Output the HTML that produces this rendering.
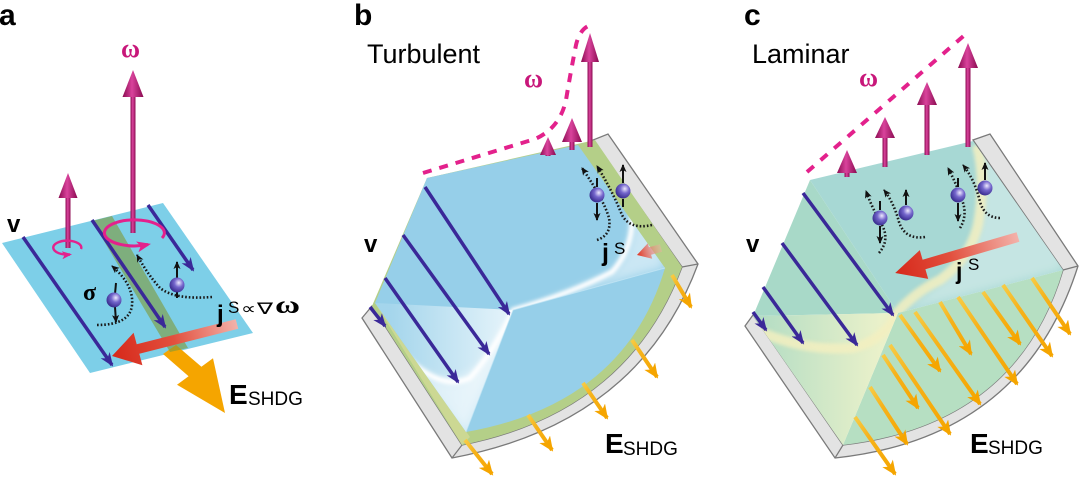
<!DOCTYPE html>
<html><head><meta charset="utf-8"><style>
html,body{margin:0;padding:0;background:#fff;width:1080px;height:477px;overflow:hidden;}
svg{display:block;}
</style></head><body>
<svg width="1080" height="477" viewBox="0 0 1080 477" xmlns="http://www.w3.org/2000/svg" font-family="'Liberation Sans', sans-serif">
<defs>
  <marker id="mb" viewBox="0 0 14 11" refX="12" refY="5.5" markerWidth="14" markerHeight="11" markerUnits="userSpaceOnUse" orient="auto"><path d="M0,0 L14,5.5 L0,11 L4,5.5 Z" fill="#3a2898"/></marker>
  <marker id="mo" viewBox="0 0 15 13" refX="13" refY="6.5" markerWidth="15" markerHeight="13" markerUnits="userSpaceOnUse" orient="auto"><path d="M0,0 L15,6.5 L0,13 L4,6.5 Z" fill="#f5a500"/></marker>
  <marker id="mk" viewBox="0 0 8 7" refX="7" refY="3.5" markerWidth="8" markerHeight="7" markerUnits="userSpaceOnUse" orient="auto"><path d="M0,0 L8,3.5 L0,7 L2,3.5 Z" fill="#111"/></marker>
  <marker id="mp" viewBox="0 0 10 8" refX="8" refY="4" markerWidth="10" markerHeight="8" markerUnits="userSpaceOnUse" orient="auto"><path d="M0,0 L10,4 L0,8 L2.5,4 Z" fill="#e3218c"/></marker>
  <marker id="mp2" viewBox="0 0 14 11" refX="11" refY="5.5" markerWidth="14" markerHeight="11" markerUnits="userSpaceOnUse" orient="auto"><path d="M0,0 L14,5.5 L0,11 L3.5,5.5 Z" fill="#e3218c"/></marker>
  <linearGradient id="mag" x1="0" y1="0" x2="1" y2="0">
    <stop offset="0" stop-color="#8a0b50"/><stop offset="0.45" stop-color="#d9439c"/><stop offset="1" stop-color="#8a0b50"/>
  </linearGradient>
  <linearGradient id="org" x1="0" y1="0" x2="1" y2="1">
    <stop offset="0" stop-color="#f7cb45"/><stop offset="0.35" stop-color="#f6b21a"/><stop offset="1" stop-color="#f5a500"/>
  </linearGradient>
  <radialGradient id="ball" cx="0.62" cy="0.35" r="0.75">
    <stop offset="0" stop-color="#eeeaff"/><stop offset="0.4" stop-color="#7466cc"/><stop offset="1" stop-color="#2a1f80"/>
  </radialGradient>
  <linearGradient id="redA" gradientUnits="userSpaceOnUse" x1="237" y1="324" x2="112" y2="358">
    <stop offset="0" stop-color="#f3b2aa"/><stop offset="0.5" stop-color="#e2503e"/><stop offset="1" stop-color="#d6281a"/>
  </linearGradient>
  <linearGradient id="redB" gradientUnits="userSpaceOnUse" x1="662" y1="248" x2="637" y2="255">
    <stop offset="0" stop-color="#f3b2aa" stop-opacity="0.4"/><stop offset="1" stop-color="#e0301e"/>
  </linearGradient>
  <linearGradient id="redC" gradientUnits="userSpaceOnUse" x1="1018" y1="237" x2="895" y2="273">
    <stop offset="0" stop-color="#f3b2aa"/><stop offset="0.55" stop-color="#e2503e"/><stop offset="1" stop-color="#d6281a"/>
  </linearGradient>
  <linearGradient id="llc" gradientUnits="userSpaceOnUse" x1="760" y1="360" x2="880" y2="360">
    <stop offset="0" stop-color="#b4ddc4"/><stop offset="1" stop-color="#eaf1ca"/>
  </linearGradient>
  <linearGradient id="llb" gradientUnits="userSpaceOnUse" x1="390" y1="360" x2="500" y2="360">
    <stop offset="0" stop-color="#a6d6ec"/><stop offset="1" stop-color="#e8f5fb"/>
  </linearGradient>
  <filter id="bl2" x="-30%" y="-30%" width="160%" height="160%"><feGaussianBlur stdDeviation="1.8"/></filter>
  <filter id="bl5" x="-30%" y="-30%" width="160%" height="160%"><feGaussianBlur stdDeviation="5"/></filter>
  <clipPath id="cpb"><polygon points="375,303 427,178 578,145 665,268 513,310 466,432"/></clipPath>
  <clipPath id="cpc"><polygon points="753,316 810,180 973,141 1063,270 898,313 843,445"/></clipPath>
</defs>

<!-- ================= PANEL A ================= -->
<text x="-1" y="25" font-size="30" font-weight="bold" fill="#000">a</text>
<text x="121" y="57" font-family="'Liberation Serif', serif" font-size="26" font-weight="bold" fill="#c8177a">ω</text>

<polygon points="2,243 163,203 253,333 90,373" fill="#7dcfe8"/>
<polygon points="176,345 201.4,366.8 213,358.2 225,413 177,384.8 188.6,376.2 163,354" fill="#f5a500"/>
<polygon points="92,221 112,216 188,348 170,352" fill="#7f9a3c" fill-opacity="0.62"/>

<g stroke="#3a2898" stroke-width="3.5" marker-end="url(#mb)" fill="none">
  <line x1="23" y1="237" x2="112" y2="365"/>
  <line x1="92" y1="220" x2="165" y2="327"/>
  <line x1="148" y1="205" x2="193" y2="270"/>
</g>

<g stroke="#1a1a1a" stroke-width="2.6" stroke-dasharray="1.6 2" fill="none" marker-end="url(#mk)">
  <path d="M 97,325 Q 130,325 132,305 Q 134,285 112,266"/>
  <path d="M 212,297 Q 175,300 160,288 Q 148,275 137,255"/>
</g>
<g stroke="#111" stroke-width="2" fill="none">
  <line x1="115" y1="294" x2="116" y2="283"/>
  <line x1="115" y1="307" x2="116" y2="322" marker-end="url(#mk)"/>
  <line x1="177" y1="278" x2="177" y2="262" marker-end="url(#mk)"/>
  <line x1="177" y1="292" x2="177" y2="298"/>
</g>
<circle cx="114" cy="300" r="7.5" fill="url(#ball)"/>
<circle cx="177" cy="285" r="7.5" fill="url(#ball)"/>

<polygon points="235.7,319.2 136.7,344.2 133.6,332.8 112,356 142.4,365.2 139.3,353.8 238.3,328.8" fill="url(#redA)"/>

<rect x="130.5" y="95" width="5" height="138" fill="url(#mag)"/>
<polygon points="133,70 143.5,97 122.5,97" fill="url(#mag)"/>
<rect x="65.5" y="196" width="5" height="52" fill="url(#mag)"/>
<polygon points="68,173 77.5,198 58.5,198" fill="url(#mag)"/>
<path d="M 81,249 A 14,7 0 1 0 70,254.5" stroke="#e3218c" stroke-width="2.4" fill="none" marker-end="url(#mp)"/>
<path d="M 162,238 A 30,13 0 1 0 148,244.5" stroke="#e3218c" stroke-width="3" fill="none" marker-end="url(#mp2)"/>

<text x="7" y="232" font-size="24" font-weight="bold" fill="#000">v</text>
<text x="83" y="300" font-family="'Liberation Serif', serif" font-size="24" font-weight="bold" fill="#000">σ</text>
<text x="217" y="322" font-size="24" font-weight="bold" fill="#000">j</text>
<text x="228" y="313" font-size="17" fill="#000">S</text>
<text x="241" y="314" font-family="'DejaVu Sans', sans-serif" font-size="16" fill="#000" textLength="15" lengthAdjust="spacingAndGlyphs">∝</text>
<text x="257" y="314" font-family="'DejaVu Sans', sans-serif" font-size="16" fill="#000" textLength="16" lengthAdjust="spacingAndGlyphs">∇</text>
<text x="275" y="313" font-family="'Liberation Serif', serif" font-size="24" font-weight="bold" fill="#000" textLength="25" lengthAdjust="spacingAndGlyphs">ω</text>
<text x="229" y="404" font-size="28" font-weight="bold" fill="#000">E</text>
<text x="248" y="405" font-size="19" fill="#000">SHDG</text>

<!-- ================= PANEL B ================= -->
<text x="354" y="25" font-size="30" font-weight="bold" fill="#000">b</text>
<text x="367" y="63" font-size="27" fill="#000">Turbulent</text>
<text x="524" y="87" font-family="'Liberation Serif', serif" font-size="26" font-weight="bold" fill="#c8177a">ω</text>

<path d="M 372,306 L 362,318 L 452,458 Q 639,423 698,264 L 608,134 L 593,140 L 682,267 Q 628,412 462,445 Z" fill="#e3e3e3" stroke="#7a7a7a" stroke-width="1.3"/>
<line x1="682" y1="267" x2="698" y2="264" stroke="#7a7a7a" stroke-width="1.2"/>
<line x1="462" y1="445" x2="452" y2="458" stroke="#7a7a7a" stroke-width="1.2"/>
<path d="M 427,178 L 595,140 L 682,267 Q 628,412 462,445 L 372,306 Z" fill="#b4cf88"/>
<path d="M 375,303 L 462,445 L 470,437 Z" fill="#d5dc98" opacity="0.7"/>
<path d="M 427,178 L 578,145 L 665,268 Q 624.5,404 466,432 L 375,303 Z" fill="#96cfe9"/>
<g clip-path="url(#cpb)">
  <polygon points="375,303 466,432 513,310" fill="url(#llb)" opacity="0.9"/>
  <path d="M 418,366 Q 450,395 482,362 Q 500,332 513,310 Q 570,294 612,272 Q 634,248 632,212 L 660,230 L 665,268 L 513,310 L 466,432 L 430,395 Z" fill="#ffffff" opacity="0.5" filter="url(#bl5)"/>
  <path d="M 405,355 Q 440,392 470,378 Q 495,350 513,310 Q 570,294 612,272 Q 634,248 632,212" stroke="#ffffff" stroke-width="5" fill="none" filter="url(#bl2)"/>
</g>
<line x1="513" y1="310" x2="665" y2="268" stroke="#c8e8f6" stroke-width="1" opacity="0.7"/>
<line x1="513" y1="310" x2="466" y2="432" stroke="#c8e8f6" stroke-width="1" opacity="0.7"/>

<g stroke="#3a2898" stroke-width="3.5" marker-end="url(#mb)" fill="none">
  <line x1="425" y1="187" x2="509" y2="314"/>
  <line x1="403" y1="235" x2="489" y2="354"/>
  <line x1="385" y1="278" x2="458" y2="382"/>
  <line x1="370" y1="307" x2="385" y2="326"/>
</g>

<g stroke="url(#org)" stroke-width="4" marker-end="url(#mo)" fill="none">
  <line x1="672" y1="275" x2="691" y2="307"/>
  <line x1="632" y1="340" x2="657" y2="377"/>
  <line x1="583" y1="383" x2="607" y2="418"/>
  <line x1="528" y1="415" x2="552" y2="450"/>
  <line x1="465" y1="440" x2="492" y2="474"/>
</g>

<g stroke="#1a1a1a" stroke-width="2.6" stroke-dasharray="1.6 2" fill="none" marker-end="url(#mk)">
  <path d="M 597,240 Q 612,235 609,218 Q 604,200 582,168"/>
  <path d="M 652,225 Q 630,230 622,215 Q 612,190 597,166"/>
</g>
<g stroke="#111" stroke-width="2" fill="none">
  <line x1="597" y1="187" x2="597" y2="178"/>
  <line x1="597" y1="203" x2="597" y2="220" marker-end="url(#mk)"/>
  <line x1="623" y1="183" x2="623" y2="165" marker-end="url(#mk)"/>
  <line x1="623" y1="199" x2="623" y2="207"/>
</g>
<circle cx="597" cy="195" r="7.5" fill="url(#ball)"/>
<circle cx="623" cy="191" r="7.5" fill="url(#ball)"/>
<polygon points="659.9,244.2 648.9,247.2 647.8,243.3 637,255 652.2,258.7 651.1,254.8 662.1,251.8" fill="url(#redB)"/>

<path d="M 423,173 L 535,139 Q 560,128 566,100 Q 571,70 576,45 Q 580,28 591,25" stroke="#e3218c" stroke-width="4" stroke-dasharray="9 8" fill="none"/>
<rect x="587.5" y="60" width="5" height="87" fill="url(#mag)"/>
<polygon points="590,33 599,62 581,62" fill="url(#mag)"/>
<rect x="569.5" y="140" width="5" height="10" fill="url(#mag)"/>
<polygon points="572,118 582,142 562,142" fill="url(#mag)"/>
<rect x="545.5" y="152" width="5" height="4" fill="url(#mag)"/>
<polygon points="548,137 556,155 540,155" fill="url(#mag)"/>

<text x="364" y="252" font-size="24" font-weight="bold" fill="#000">v</text>
<text x="602" y="261" font-size="25" font-weight="bold" fill="#000">j</text>
<text x="614" y="254" font-size="17" fill="#000">S</text>
<text x="605" y="453" font-size="28" font-weight="bold" fill="#000">E</text>
<text x="623" y="455" font-size="19" fill="#000">SHDG</text>

<!-- ================= PANEL C ================= -->
<text x="744" y="25" font-size="30" font-weight="bold" fill="#000">c</text>
<text x="752" y="63" font-size="27" fill="#000">Laminar</text>
<text x="859" y="86" font-family="'Liberation Serif', serif" font-size="26" font-weight="bold" fill="#c8177a">ω</text>

<path d="M 753,315 L 745,326 L 835,458 Q 1023.5,438 1078,266 L 990,134 L 973,140 L 1063,270 Q 1017,424.5 843,445 Z" fill="#e3e3e3" stroke="#7a7a7a" stroke-width="1.3"/>
<line x1="1063" y1="270" x2="1078" y2="266" stroke="#7a7a7a" stroke-width="1.2"/>
<line x1="843" y1="445" x2="835" y2="458" stroke="#7a7a7a" stroke-width="1.2"/>
<path d="M 898,313 L 1063,270 Q 1017,424.5 843,445 Z" fill="#b6dfc2"/>
<polygon points="810,180 973,141 1063,270 898,313" fill="#a7d8d4"/>
<polygon points="810,180 898,313 753,316" fill="#a8d9c8"/>
<polygon points="753,316 898,313 843,445" fill="url(#llc)"/>
<g clip-path="url(#cpc)">
  <path d="M 940,282 Q 972,256 978,222 Q 986,180 976,141 L 1063,200 L 1063,270 L 900,313 Z" fill="#ffffff" opacity="0.35" filter="url(#bl5)"/>
  <path d="M 750,327 Q 800,352 853,348 Q 885,340 897,313 Q 915,292 940,280 Q 970,258 978,225 Q 986,180 977,145" stroke="#f3efc0" stroke-width="10" fill="none" opacity="0.85" filter="url(#bl2)"/>
</g>

<g stroke="#3a2898" stroke-width="3.5" marker-end="url(#mb)" fill="none">
  <line x1="803" y1="193" x2="893" y2="315"/>
  <line x1="782" y1="243" x2="857" y2="345"/>
  <line x1="763" y1="287" x2="803" y2="343"/>
  <line x1="753" y1="312" x2="766" y2="330"/>
</g>

<g stroke="url(#org)" stroke-width="4" marker-end="url(#mo)" fill="none">
  <line x1="1032" y1="278" x2="1070" y2="334"/>
  <line x1="1003" y1="285" x2="1052" y2="356"/>
  <line x1="983" y1="292" x2="1020" y2="344"/>
  <line x1="958" y1="297" x2="1017" y2="384"/>
  <line x1="940" y1="302" x2="971" y2="354"/>
  <line x1="915" y1="312" x2="980" y2="404"/>
  <line x1="900" y1="315" x2="940" y2="371"/>
  <line x1="890" y1="345" x2="950" y2="434"/>
  <line x1="883" y1="355" x2="918" y2="408"/>
  <line x1="870" y1="387" x2="907" y2="444"/>
  <line x1="855" y1="417" x2="895" y2="474"/>
</g>

<g stroke="#1a1a1a" stroke-width="2.6" stroke-dasharray="1.6 2" fill="none" marker-end="url(#mk)">
  <path d="M 879,253 Q 890,240 882,225 Q 872,208 866,191"/>
  <path d="M 925,237 Q 905,240 899,222 Q 894,203 884,190"/>
  <path d="M 960,228 Q 968,215 962,200 Q 956,183 948,168"/>
  <path d="M 1000,218 Q 985,218 980,202 Q 975,180 963,165"/>
</g>
<g stroke="#111" stroke-width="2" fill="none">
  <line x1="880" y1="210" x2="880" y2="201"/>
  <line x1="880" y1="226" x2="880" y2="243" marker-end="url(#mk)"/>
  <line x1="906" y1="205" x2="906" y2="190" marker-end="url(#mk)"/>
  <line x1="958" y1="187" x2="958" y2="178"/>
  <line x1="958" y1="203" x2="958" y2="221" marker-end="url(#mk)"/>
  <line x1="985" y1="180" x2="985" y2="163" marker-end="url(#mk)"/>
</g>
<circle cx="880" cy="218" r="7.5" fill="url(#ball)"/>
<circle cx="906" cy="213" r="7.5" fill="url(#ball)"/>
<circle cx="958" cy="195" r="7.5" fill="url(#ball)"/>
<circle cx="985" cy="188" r="7.5" fill="url(#ball)"/>

<polygon points="1016.6,232.2 922.6,259.7 919.8,250.1 895.2,273 928.2,278.9 925.4,269.3 1019.4,241.8" fill="url(#redC)"/>

<path d="M 807,172 L 967,33" stroke="#e3218c" stroke-width="4" stroke-dasharray="9 9" fill="none"/>
<rect x="844.5" y="171" width="5" height="6" fill="url(#mag)"/>
<polygon points="847,150 857,173 837,173" fill="url(#mag)"/>
<rect x="882.5" y="136" width="5" height="31" fill="url(#mag)"/>
<polygon points="885,117 895,138 875,138" fill="url(#mag)"/>
<rect x="924.5" y="103" width="5" height="52" fill="url(#mag)"/>
<polygon points="927,82 937,105 917,105" fill="url(#mag)"/>
<rect x="965.5" y="66" width="5" height="81" fill="url(#mag)"/>
<polygon points="968,43 978,68 958,68" fill="url(#mag)"/>

<text x="746" y="252" font-size="24" font-weight="bold" fill="#000">v</text>
<text x="956" y="279" font-size="23" font-weight="bold" fill="#000">j</text>
<text x="968" y="270" font-size="17" fill="#000">S</text>
<text x="970" y="453" font-size="28" font-weight="bold" fill="#000">E</text>
<text x="988" y="454" font-size="19" fill="#000">SHDG</text>
</svg>
</body></html>
